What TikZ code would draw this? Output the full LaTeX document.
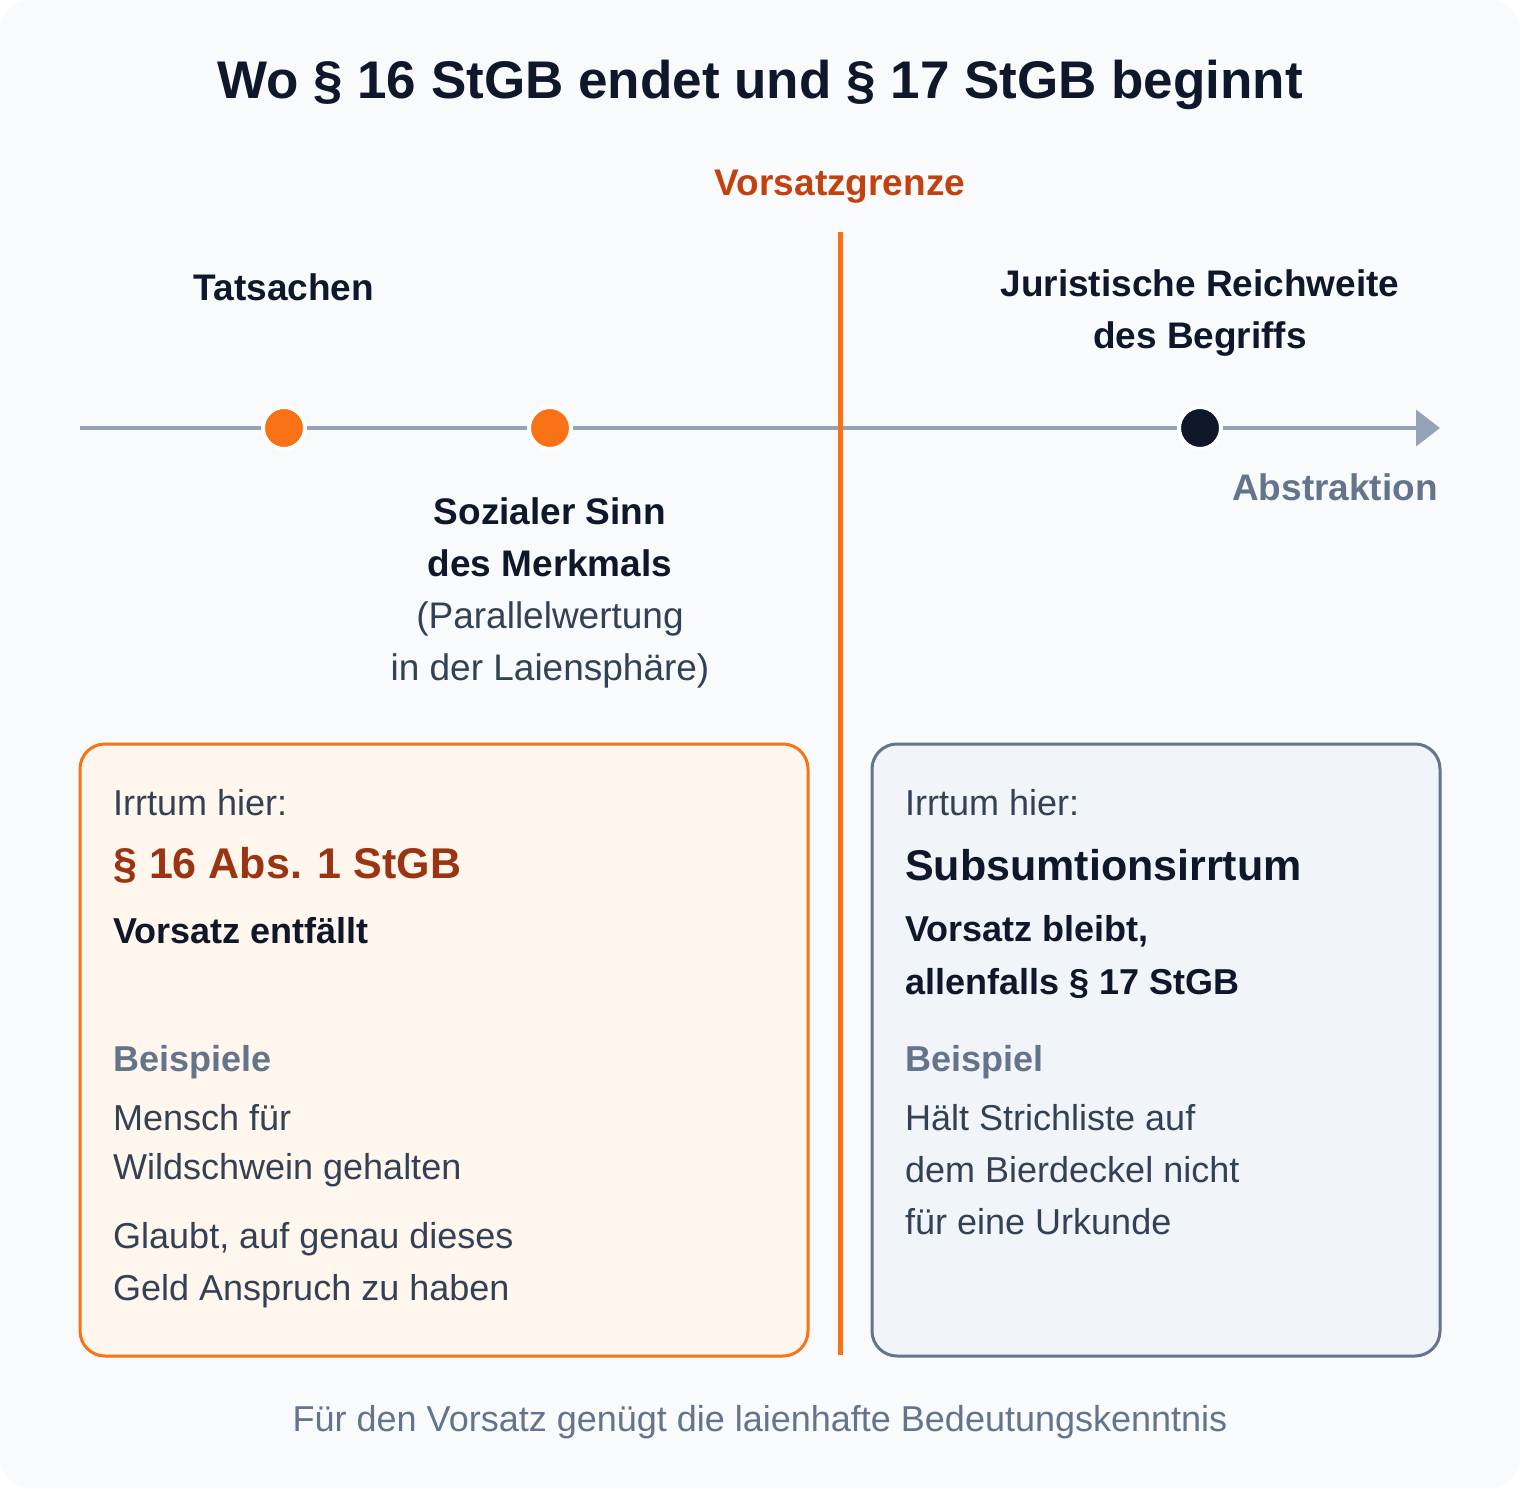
\documentclass[tikz,border=0pt]{standalone}
\usepackage{fontspec}
\setmainfont{Liberation Sans}
\usetikzlibrary{arrows.meta}
\definecolor{bg}{HTML}{F8FAFC}
\definecolor{ink}{HTML}{0F172A}
\definecolor{txt}{HTML}{334155}
\definecolor{org}{HTML}{F97316}
\definecolor{orgd}{HTML}{C2410C}
\definecolor{orgt}{HTML}{9A3412}
\definecolor{gry}{HTML}{64748B}
\definecolor{axis}{HTML}{94A3B8}
\definecolor{lbox}{HTML}{FFF7ED}
\definecolor{rbox}{HTML}{F1F5F9}
\begin{document}
\begin{tikzpicture}[x=1pt,y=-1pt,
  t/.style={inner sep=0pt,anchor=west,font=\fontsize{36}{36}\selectfont,text=txt},
  tb/.style={t,font=\fontsize{36}{36}\selectfont\bfseries,text=ink},
  dot/.style={circle,minimum size=42pt,inner sep=0pt,draw=white,line width=4pt}]
\useasboundingbox (0,0) rectangle (1520,1488);
\fill[bg,rounded corners=30pt] (0,0) rectangle (1520,1488);
\node[inner sep=0pt,font=\fontsize{53}{53}\selectfont\bfseries,text=ink] (title) at (760,85) {Wo § 16 StGB endet und § 17 StGB beginnt};
\node[inner sep=0pt,font=\fontsize{37}{37}\selectfont\bfseries,text=orgd] (vg) at (840,187) {Vorsatzgrenze};
\coordinate (vt) at (840,232); \coordinate (vb) at (840,1355);
\coordinate (a0) at (80,428); \coordinate (a1) at (1440,428);
\draw[axis,line width=4pt,-{Triangle[length=24pt,width=36pt]}] (a0) -- (a1);
\draw[org,line width=5pt] (vt) -- (vb);
\node[dot,fill=org] (d1) at (284,428) {};
\node[dot,fill=org] (d2) at (550,428) {};
\node[dot,fill=ink] (d3) at (1200,428) {};
\node[inner sep=0pt,font=\fontsize{37}{37}\selectfont\bfseries,text=ink] (tat) at (284,287) {Tatsachen};
\node[inner sep=0pt,font=\fontsize{37}{52}\selectfont\bfseries,text=ink,align=center] (jur) at (1200,313) {Juristische Reichweite\\des Begriffs};
\node[inner sep=0pt,font=\fontsize{37}{37}\selectfont\bfseries,text=gry,anchor=east] (abs) at (1438,487) {Abstraktion};
\node[inner sep=0pt,font=\fontsize{37}{52}\selectfont,text=txt,align=center] (soz) at (550,593) {\textbf{\color{ink}Sozialer Sinn}\\\textbf{\color{ink}des Merkmals}\\(Parallelwertung\\in der Laiensphäre)};
\draw[org,line width=3pt,fill=lbox,rounded corners=25pt] (80,744) rectangle (808,1356);
\draw[gry,line width=3pt,fill=rbox,rounded corners=25pt] (872,744) rectangle (1440,1356);
% left
\node[t] (l1) at (113,803) {Irrtum hier:};
\node[t,font=\fontsize{43}{43}\selectfont\bfseries,text=orgt] (l2) at (113,865) {§ 16 Abs. 1 StGB};
\node[tb] (l3) at (113,931) {Vorsatz entfällt};
\node[tb,text=gry] (l4) at (113,1062) {Beispiele};
\node[t] (l5) at (113,1118) {Mensch für};
\node[t] (l6) at (113,1170) {Wildschwein gehalten};
\node[t] (l7) at (113,1239) {Glaubt, auf genau dieses};
\node[t] (l8) at (113,1291) {Geld Anspruch zu haben};
% right
\node[t] (r1) at (905,803) {Irrtum hier:};
\node[t,font=\fontsize{43}{43}\selectfont\bfseries,text=ink] (r2) at (905,865) {Subsumtionsirrtum};
\node[tb] (r3) at (905,931) {Vorsatz bleibt,};
\node[tb] (r4) at (905,983) {allenfalls § 17 StGB};
\node[tb,text=gry] (r5) at (905,1062) {Beispiel};
\node[t] (r6) at (905,1118) {Hält Strichliste auf};
\node[t] (r7) at (905,1170) {dem Bierdeckel nicht};
\node[t] (r8) at (905,1222) {für eine Urkunde};
\node[inner sep=0pt,font=\fontsize{36}{36}\selectfont,text=gry] (foot) at (760,1422) {Für den Vorsatz genügt die laienhafte Bedeutungskenntnis};
\end{tikzpicture}
\end{document}
